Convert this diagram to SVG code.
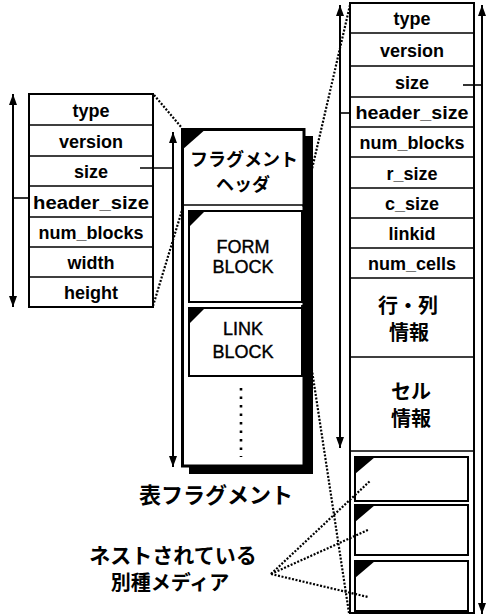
<svg xmlns="http://www.w3.org/2000/svg" width="489" height="616" viewBox="0 0 489 616">
<defs>
<style>
.box{fill:#fff;stroke:#000;stroke-width:2}
.ln{stroke:#000;stroke-width:1.6;fill:none}
.t{font-family:"Liberation Sans",Arial,sans-serif;font-size:18px;font-weight:bold;text-anchor:middle;fill:#000}
.r{font-family:"Liberation Sans",Arial,sans-serif;font-size:18px;text-anchor:middle;fill:#000;stroke:#000;stroke-width:0.4}
.j{font-family:"Noto Sans CJK JP",sans-serif;font-weight:bold;text-anchor:middle;fill:#000}
.dot{stroke:#000;stroke-width:2.2;stroke-dasharray:2 1.6;fill:none}
.arr{stroke:#000;stroke-width:2;fill:none;marker-start:url(#ah);marker-end:url(#ah)}
.tri{fill:#000}
</style>
<marker id="ah" viewBox="0 0 11 8" refX="11" refY="4" markerWidth="11" markerHeight="8" markerUnits="userSpaceOnUse" orient="auto-start-reverse">
<path d="M0,0 L11,4 L0,8 z" fill="#000"/>
</marker>
</defs>
<rect width="489" height="616" fill="#fff"/>

<g id="header-table">
<rect class="box" x="29" y="94" width="124" height="213"/>
<path class="ln" d="M29,125H153M29,156H153M29,186H153M29,217H153M29,247H153M29,277H153"/>
<text class="t" x="91" y="116.5">type</text>
<text class="t" x="91" y="147.5">version</text>
<text class="t" x="91" y="178">size</text>
<text class="t" x="91" y="208.5" textLength="116" lengthAdjust="spacingAndGlyphs">header_size</text>
<text class="t" x="91" y="239">num_blocks</text>
<text class="t" x="91" y="269">width</text>
<text class="t" x="91" y="299">height</text>
</g>

<g id="fragment">
<rect x="189" y="136" width="124" height="338" fill="#000"/>
<rect x="182.5" y="129.5" width="121.5" height="336.5" fill="#fff" stroke="#000" stroke-width="3"/>
<polygon class="tri" points="182,128 207,128 182,150"/>
<line class="ln" x1="182" y1="205" x2="304" y2="205"/>
<text class="j" x="244" y="166" font-size="18">フラグメント</text>
<text class="j" x="243" y="191" font-size="18">ヘッダ</text>
</g>

<g id="form-block">
<rect class="box" x="189" y="211" width="113" height="91"/>
<polygon class="tri" points="189,211 205,211 189,227"/>
<text class="r" x="243" y="253">FORM</text>
<text class="r" x="243" y="273">BLOCK</text>
</g>

<g id="link-block">
<rect class="box" x="189" y="308" width="113" height="68"/>
<polygon class="tri" points="189,308 205,308 189,324"/>
<text class="r" x="243" y="335">LINK</text>
<text class="r" x="243" y="358">BLOCK</text>
</g>

<g id="ellipsis">
<line x1="241" y1="388" x2="241" y2="457" stroke="#000" stroke-width="2.6" stroke-dasharray="2.6 5.9"/>
</g>

<text id="fragment-label" class="j" x="216" y="503" font-size="22">表フラグメント</text>

<g id="form-table">
<rect class="box" x="350" y="3" width="124" height="610" stroke-width="2.4"/>
<path class="ln" d="M350,33H474M350,66H474M350,97H474M350,127H474M350,157H474M350,188H474M350,218H474M350,248H474M350,278H474M350,357H474M350,451H474"/>
<text class="t" x="412" y="25">type</text>
<text class="t" x="412" y="56.5">version</text>
<text class="t" x="412" y="88.5">size</text>
<text class="t" x="412" y="119" textLength="113" lengthAdjust="spacingAndGlyphs">header_size</text>
<text class="t" x="412" y="149">num_blocks</text>
<text class="t" x="412" y="180">r_size</text>
<text class="t" x="412" y="210">c_size</text>
<text class="t" x="412" y="240">linkid</text>
<text class="t" x="412" y="270">num_cells</text>
<text class="j" x="408" y="313" font-size="20">行・列</text>
<text class="j" x="409" y="340" font-size="20">情報</text>
<text class="j" x="411" y="399" font-size="20">セル</text>
<text class="j" x="411" y="426" font-size="20">情報</text>
</g>

<g id="media-1">
<rect class="box" x="355" y="457" width="113" height="44"/>
<polygon class="tri" points="355,457 375,457 355,474"/>
</g>
<g id="media-2">
<rect class="box" x="355" y="505" width="113" height="50"/>
<polygon class="tri" points="355,505 375,505 355,522"/>
</g>
<g id="media-3">
<rect class="box" x="355" y="561" width="113" height="50"/>
<polygon class="tri" points="355,561 375,561 355,578"/>
</g>

<g id="media-label">
<text class="j" x="173" y="563" font-size="21">ネストされている</text>
<text class="j" x="170" y="590" font-size="20">別種メディア</text>
</g>

<g id="connectors">
<line class="arr" x1="13" y1="94" x2="13" y2="307"/>
<line class="ln" x1="13" y1="198" x2="29" y2="198"/>
<line class="ln" x1="140" y1="168" x2="173" y2="168"/>
<line class="arr" x1="173" y1="132" x2="173" y2="467"/>
<line class="arr" x1="340" y1="5" x2="340" y2="448"/>
<line class="ln" x1="340" y1="113" x2="351" y2="113"/>
<line class="arr" x1="482" y1="5" x2="482" y2="614"/>
<line class="ln" x1="463" y1="85" x2="482" y2="85"/>
<line class="dot" x1="154" y1="95" x2="182" y2="128"/>
<line class="dot" x1="153" y1="306" x2="183" y2="207"/>
<line class="dot" x1="350" y1="5" x2="303" y2="208"/>
<line class="dot" x1="302" y1="305" x2="349" y2="613"/>
<line class="dot" x1="271" y1="574" x2="370" y2="481"/>
<line class="dot" x1="271" y1="574" x2="368" y2="530"/>
<line class="dot" x1="271" y1="574" x2="368" y2="597"/>
</g>
</svg>
